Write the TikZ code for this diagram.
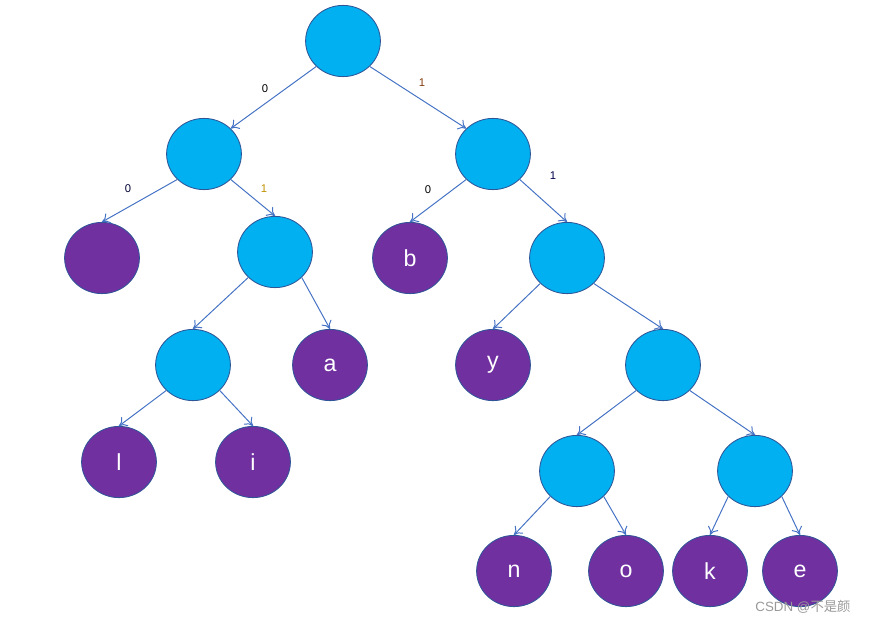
\documentclass[tikz,border=0pt]{standalone}
\usepackage{fontspec}
\setsansfont{Liberation Sans}
\newfontfamily\cjkfont{Noto Sans CJK SC}
\usetikzlibrary{positioning, arrows.meta, shapes.geometric}

\definecolor{nodeblue}{HTML}{00B0F0}
\definecolor{leafpurple}{HTML}{7030A0}
\definecolor{rimblue}{HTML}{2F5597}
\definecolor{edgeblue}{HTML}{4472C4}
\definecolor{bitred}{HTML}{843C0C}
\definecolor{bitorange}{HTML}{BF8F00}

\begin{document}
\begin{tikzpicture}[x=0.025cm, y=-0.025cm,
    inner/.style={ellipse, draw=rimblue, line width=0.6pt, fill=nodeblue, minimum width=1.87cm, minimum height=1.78cm},
    leaf/.style={ellipse, draw=rimblue, line width=0.6pt, fill=leafpurple, minimum width=1.87cm, minimum height=1.78cm, text=white, font=\sffamily\fontsize{16.5}{19}\selectfont},
    edge/.style={draw=edgeblue, -{To[length=5.5pt, width=8pt]}, line width=0.7pt},
    bit/.style={font=\sffamily\fontsize{8}{9}\selectfont, inner sep=0pt}
]
\useasboundingbox (0,0) rectangle (869,625);

% inner nodes
\node[inner] (root) at (343,41) {};
\node[inner] (n0) at (204,154) {};
\node[inner] (n1) at (493,154) {};
\node[inner] (n01) at (275,252) {};
\node[inner] (n11) at (567,258) {};
\node[inner] (n010) at (193,365) {};
\node[inner] (n111) at (663,365) {};
\node[inner] (n1110) at (577,471) {};
\node[inner] (n1111) at (755,471) {};

% leaves
\node[leaf] (space) at (102,258) {};
\node[leaf] (b) at (410,258) {b};
\node[leaf] (a) at (330,365) {a};
\node[leaf] (y) at (493,365) {y};
\node[leaf] (l) at (119,462) {l};
\node[leaf] (i) at (253,462) {i};
\node[leaf] (n) at (514,571) {n};
\node[leaf] (o) at (626,571) {o};
\node[leaf] (k) at (710,571) {k};
\node[leaf] (e) at (800,571) {e};

% connectors
\draw[edge] (root.south west) -- (n0.north east);
\draw[edge] (root.south east) -- (n1.north west);
\draw[edge] (n0.south west) -- (space.north);
\draw[edge] (n0.south east) -- (n01.north);
\draw[edge] (n1.south west) -- (b.north);
\draw[edge] (n1.south east) -- (n11.north);
\draw[edge] (n01.south west) -- (n010.north);
\draw[edge] (n01.south east) -- (a.north);
\draw[edge] (n11.south west) -- (y.north);
\draw[edge] (n11.south east) -- (n111.north);
\draw[edge] (n010.south west) -- (l.north);
\draw[edge] (n010.south east) -- (i.north);
\draw[edge] (n111.south west) -- (n1110.north);
\draw[edge] (n111.south east) -- (n1111.north);
\draw[edge] (n1110.south west) -- (n.north);
\draw[edge] (n1110.south east) -- (o.north);
\draw[edge] (n1111.south west) -- (k.north);
\draw[edge] (n1111.south east) -- (e.north);

% bit labels
\node[bit] (b0) at (265,89) {0};
\node[bit, text=bitred] (b1) at (422,83) {1};
\node[bit, text=black!80!blue] (b00) at (128,189) {0};
\node[bit, text=bitorange] (b01) at (264,189) {1};
\node[bit] (b10) at (428,190) {0};
\node[bit, text=black!70!blue] (b11) at (553,176) {1};

\node[text=black!40, font=\sffamily\fontsize{9.5}{11}\selectfont, inner sep=0pt] (mark) at (803,607) {CSDN @{\cjkfont 不是颜}};
\end{tikzpicture}
\end{document}
